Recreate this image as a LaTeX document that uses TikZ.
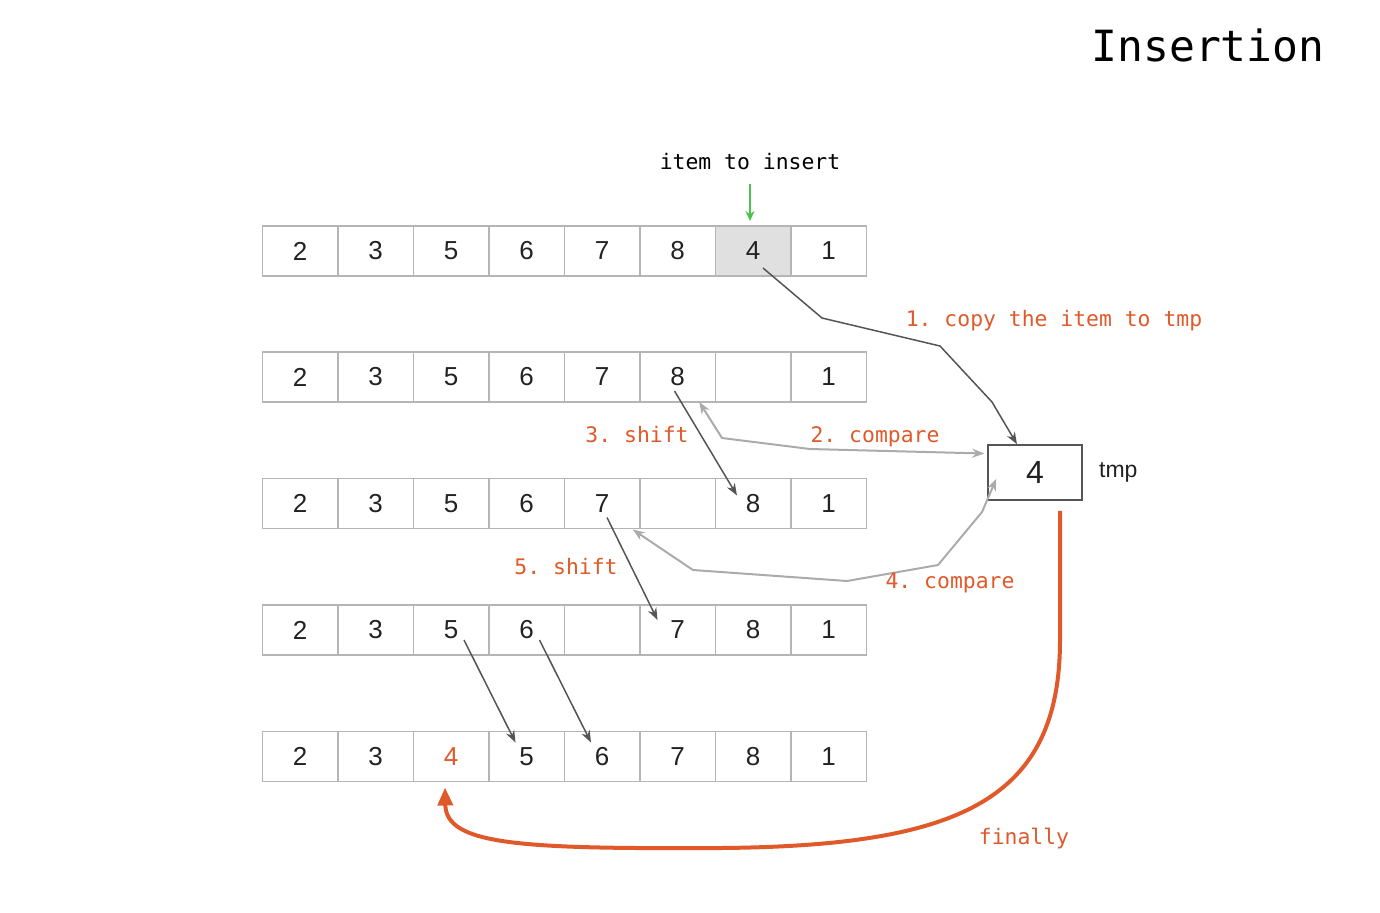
\documentclass[tikz,border=0pt]{standalone}
\usepackage{fontspec}
\setmainfont{Liberation Sans}
\setmonofont{DejaVu Sans Mono}
\usepackage{tikz}
\usetikzlibrary{arrows.meta,positioning}
\definecolor{grid}{HTML}{B5B5B5}
\definecolor{hl}{HTML}{E0E0E0}
\definecolor{ink}{HTML}{222222}
\definecolor{wire}{HTML}{555555}
\definecolor{soft}{HTML}{ABABAB}
\definecolor{accent}{HTML}{E0592A}
\definecolor{leaf}{HTML}{4CC24C}
\tikzset{
  cell/.style={rectangle, draw=grid, line width=0.75pt, minimum width=37.75pt, minimum height=25pt,
               inner sep=0pt, outer sep=0pt, text=ink, font=\fontsize{13}{15}\selectfont},
  hicell/.style={cell, fill=hl},
  tmpbox/.style={rectangle, draw=wire, fill=white, line width=0.75pt, minimum width=47pt,
                 minimum height=27.5pt, inner sep=0pt, text=ink, font=\fontsize{16}{18}\selectfont},
  lbl/.style={font=\ttfamily\fontsize{10.7}{12}\selectfont, text=accent, inner sep=0pt},
  move/.style={-{Stealth[length=6pt,width=4.5pt]}, draw=wire, line width=0.75pt},
  cmp/.style={{Stealth[length=6pt,width=4.5pt]}-{Stealth[length=6pt,width=4.5pt]}, draw=soft, line width=1pt},
  final/.style={-{Triangle[length=9pt,width=7.5pt]}, draw=accent, line width=2pt},
  pick/.style={-{Stealth[length=5pt,width=4.5pt]}, draw=leaf, line width=0.75pt}
}
\begin{document}
\begin{tikzpicture}[x=0.5pt, y=-0.5pt]
  \useasboundingbox (0,0) rectangle (1380,912);
  \node[font=\ttfamily\fontsize{21.5}{24}\selectfont, text=black] (title) at (1208,45) {Insertion};
  % row a: start
  \node[cell] (a1) at (300,251) {2}; \node[cell, right=0pt of a1] (a2) {3};
  \node[cell, right=0pt of a2] (a3) {5}; \node[cell, right=0pt of a3] (a4) {6};
  \node[cell, right=0pt of a4] (a5) {7}; \node[cell, right=0pt of a5] (a6) {8};
  \node[hicell, right=0pt of a6] (a7) {4}; \node[cell, right=0pt of a7] (a8) {1};
  % row b
  \node[cell] (b1) at (300,377) {2}; \node[cell, right=0pt of b1] (b2) {3};
  \node[cell, right=0pt of b2] (b3) {5}; \node[cell, right=0pt of b3] (b4) {6};
  \node[cell, right=0pt of b4] (b5) {7}; \node[cell, right=0pt of b5] (b6) {8};
  \node[cell, right=0pt of b6] (b7) {}; \node[cell, right=0pt of b7] (b8) {1};
  % row c
  \node[cell] (c1) at (300,503.5) {2}; \node[cell, right=0pt of c1] (c2) {3};
  \node[cell, right=0pt of c2] (c3) {5}; \node[cell, right=0pt of c3] (c4) {6};
  \node[cell, right=0pt of c4] (c5) {7}; \node[cell, right=0pt of c5] (c6) {};
  \node[cell, right=0pt of c6] (c7) {8}; \node[cell, right=0pt of c7] (c8) {1};
  % row d
  \node[cell] (d1) at (300,630) {2}; \node[cell, right=0pt of d1] (d2) {3};
  \node[cell, right=0pt of d2] (d3) {5}; \node[cell, right=0pt of d3] (d4) {6};
  \node[cell, right=0pt of d4] (d5) {}; \node[cell, right=0pt of d5] (d6) {7};
  \node[cell, right=0pt of d6] (d7) {8}; \node[cell, right=0pt of d7] (d8) {1};
  % row e: done
  \node[cell] (e1) at (300,756.5) {2}; \node[cell, right=0pt of e1] (e2) {3};
  \node[cell, right=0pt of e2, text=accent] (e3) {4}; \node[cell, right=0pt of e3] (e4) {5};
  \node[cell, right=0pt of e4] (e5) {6}; \node[cell, right=0pt of e5] (e6) {7};
  \node[cell, right=0pt of e6] (e7) {8}; \node[cell, right=0pt of e7] (e8) {1};

  \node[tmpbox] (tmp) at (1035,472.5) {4};
  \node[right=8pt of tmp, inner sep=0pt, text=ink, font=\fontsize{11.5}{13}\selectfont] (tmpname) {tmp};

  \node[lbl, text=black] (item) at (750,162) {item to insert};
  \draw[pick] ([shift={(0,13)}]item.south) -- ([shift={(-3,-5)}]a7.north);

  % 1. copy
  \draw[move] ([shift={(10,17)}]a7.center) -- (822,318) -- (940,346) -- (992,402) -- ([shift={(-18,0)}]tmp.north);
  \node[lbl] (l1) at (1054,321) {1. copy the item to tmp};
  % 2. compare, 3. shift
  \draw[cmp] ([shift={(-16,0)}]b6.south east) -- (722,438) -- (810,449) -- ([shift={(-3,-19)}]tmp.west);
  \node[lbl] (l2) at (875,437) {2. compare};
  \draw[move] ([shift={(-3,14)}]b6.center) -- ([shift={(-16,-8)}]c7.center);
  \node[lbl] (l3) at (637,435) {3. shift};
  % 4. compare, 5. shift
  \draw[cmp] ([shift={(-7,1)}]c5.south east) -- (693,570) -- (847,581) -- (938,565) -- (982,512) -- ([shift={(9,-22)}]tmp.south west);
  \node[lbl] (l4) at (950,583) {4. compare};
  \draw[move] ([shift={(5,14)}]c5.center) -- ([shift={(-20,-10)}]d6.center);
  \node[lbl] (l5) at (566,567) {5. shift};
  % remaining shifts
  \draw[move] ([shift={(13,10)}]d3.center) -- ([shift={(-11,-14)}]e4.center);
  \draw[move] ([shift={(13,10)}]d4.center) -- ([shift={(-11,-14)}]e5.center);
  % finally
  \draw[final] ([shift={(25,10)}]tmp.south) -- (1060,640)
     .. controls (1060,800) and (960,846) .. (720,848)
     .. controls (520,849) and (446,845) .. ([shift={(-6,6)}]e3.south);
  \node[lbl] (l6) at (1024,839) {finally};
\end{tikzpicture}
\end{document}
